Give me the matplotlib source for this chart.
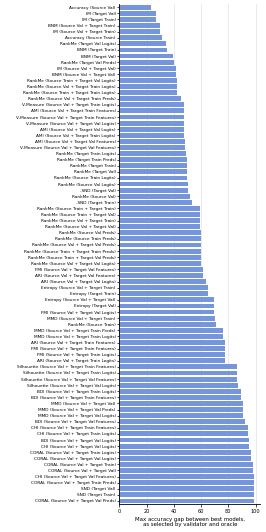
import matplotlib
matplotlib.use('Agg')
import matplotlib.pyplot as plt
import numpy as np

labels = [
    'Accuracy (Source Val)', 'IM (Target Val)', 'IM (Target Train)',
    'BNM (Source Val + Target Train)', 'IM (Source Val + Target Train)',
    'Accuracy (Source Train)', 'RankMe (Target Val Logits)', 'BNM (Target Train)',
    'BNM (Target Val)', 'RankMe (Target Val Preds)', 'IM (Source Val + Target Val)',
    'BNM (Source Val + Target Val)', 'RankMe (Source Train + Target Val Logits)',
    'RankMe (Source Val + Target Train Logits)', 'RankMe (Source Train + Target Train Logits)',
    'RankMe (Source Val + Target Train Preds)', 'V-Measure (Source Val + Target Train Logits)',
    'AMI (Source Val + Target Train Features)', 'V-Measure (Source Val + Target Train Features)',
    'V-Measure (Source Val + Target Val Logits)', 'AMI (Source Val + Target Val Logits)',
    'AMI (Source Val + Target Train Logits)', 'AMI (Source Val + Target Val Features)',
    'V-Measure (Source Val + Target Val Features)', 'RankMe (Target Train Logits)',
    'RankMe (Target Train Preds)', 'RankMe (Target Train)', 'RankMe (Target Val)',
    'RankMe (Source Train Logits)', 'RankMe (Source Val Logits)', '-SND (Target Val)',
    'RankMe (Source Val)', '-SND (Target Train)', 'RankMe (Source Train + Target Train)',
    'RankMe (Source Train + Target Val)', 'RankMe (Source Val + Target Train)',
    'RankMe (Source Val + Target Val)', 'RankMe (Source Val Preds)', 'RankMe (Source Train Preds)',
    'RankMe (Source Val + Target Val Preds)', 'RankMe (Source Train + Target Train Preds)',
    'RankMe (Source Train + Target Val Preds)', 'RankMe (Source Val + Target Val Logits)',
    'FMI (Source Val + Target Val Features)', 'ARI (Source Val + Target Val Features)',
    'ARI (Source Val + Target Val Logits)', 'Entropy (Source Val + Target Train)',
    'Entropy (Target Train)', 'Entropy (Source Val + Target Val)', 'Entropy (Target Val)',
    'FMI (Source Val + Target Val Logits)', 'MMD (Source Val + Target Train)',
    'RankMe (Source Train)', 'MMD (Source Val + Target Train Preds)',
    'MMD (Source Val + Target Train Logits)', 'ARI (Source Val + Target Train Features)',
    'FMI (Source Val + Target Train Features)', 'FMI (Source Val + Target Train Logits)',
    'ARI (Source Val + Target Train Logits)', 'Silhouette (Source Val + Target Train Features)',
    'Silhouette (Source Val + Target Train Logits)', 'Silhouette (Source Val + Target Val Features)',
    'Silhouette (Source Val + Target Val Logits)', 'BDI (Source Val + Target Train Logits)',
    'BDI (Source Val + Target Train Features)', 'MMD (Source Val + Target Val)',
    'MMD (Source Val + Target Val Preds)', 'MMD (Source Val + Target Val Logits)',
    'BDI (Source Val + Target Val Features)', 'CHI (Source Val + Target Train Features)',
    'CHI (Source Val + Target Train Logits)', 'BDI (Source Val + Target Val Logits)',
    'CHI (Source Val + Target Val Logits)', 'CORAL (Source Val + Target Train Logits)',
    'CORAL (Source Val + Target Val Logits)', 'CORAL (Source Val + Target Train)',
    'CORAL (Source Val + Target Val)', 'CHI (Source Val + Target Val Features)',
    'CORAL (Source Val + Target Train Preds)', 'SND (Target Val)', 'SND (Target Train)',
    'CORAL (Source Val + Target Val Preds)',
]

gaps = [
    23.1, 27.0, 27.0, 30.1, 30.0, 31.6, 34.6, 35.1,
    39.5, 40.2, 41.4, 41.4, 42.4, 42.6, 42.4,
    45.1, 47.3, 47.3, 47.3, 47.3, 47.3, 47.3,
    48.3, 48.3, 48.8, 49.3, 49.5, 49.8, 50.0, 50.2,
    50.5, 51.5, 53.2, 59.3, 59.3, 59.3, 59.3,
    60.3, 60.3, 60.3, 60.3, 60.3, 60.3, 61.3, 61.3,
    63.5, 65.4, 65.4, 69.4, 69.4, 69.6, 70.4, 70.9,
    76.0, 76.0, 77.9, 77.9, 77.9, 77.9, 86.0,
    86.0, 86.0, 86.8, 89.0, 89.0, 90.7, 91.0, 91.0,
    92.2, 94.1, 94.1, 94.9, 94.9, 96.6, 96.8,
    97.8, 97.8, 98.5, 98.5, 98.5, 98.5, 98.5,
]

fig = plt.figure(figsize=(2.66, 5.32), dpi=100)
ax = fig.add_axes([0.4485, 0.0526, 0.53, 0.9394])

y = np.arange(len(labels))
ax.barh(y, gaps, height=0.8, color='#7596dc', zorder=2)
ax.set_ylim(len(labels) - 0.5, -0.5)
ax.set_xlim(0, max(gaps) * 1.05)
ax.set_yticks(y)
ax.set_yticklabels(labels, fontsize=3.1)
ax.set_xticks([0, 20, 40, 60, 80, 100])
ax.tick_params(axis='x', labelsize=3.6, length=2, width=0.5, pad=1.5)
ax.tick_params(axis='y', length=1.5, width=0.5, pad=1)
ax.set_xlabel('Max accuracy gap between best models,\nas selected by validator and oracle',
              fontsize=3.9, labelpad=2)
ax.grid(axis='x', color='#e6e6e6', linewidth=0.6, zorder=0)
ax.set_axisbelow(True)
for side in ['top', 'right']:
    ax.spines[side].set_visible(False)
ax.spines['left'].set_linewidth(0.6)
ax.spines['bottom'].set_linewidth(0.6)

fig.savefig('out.png', dpi=100)
